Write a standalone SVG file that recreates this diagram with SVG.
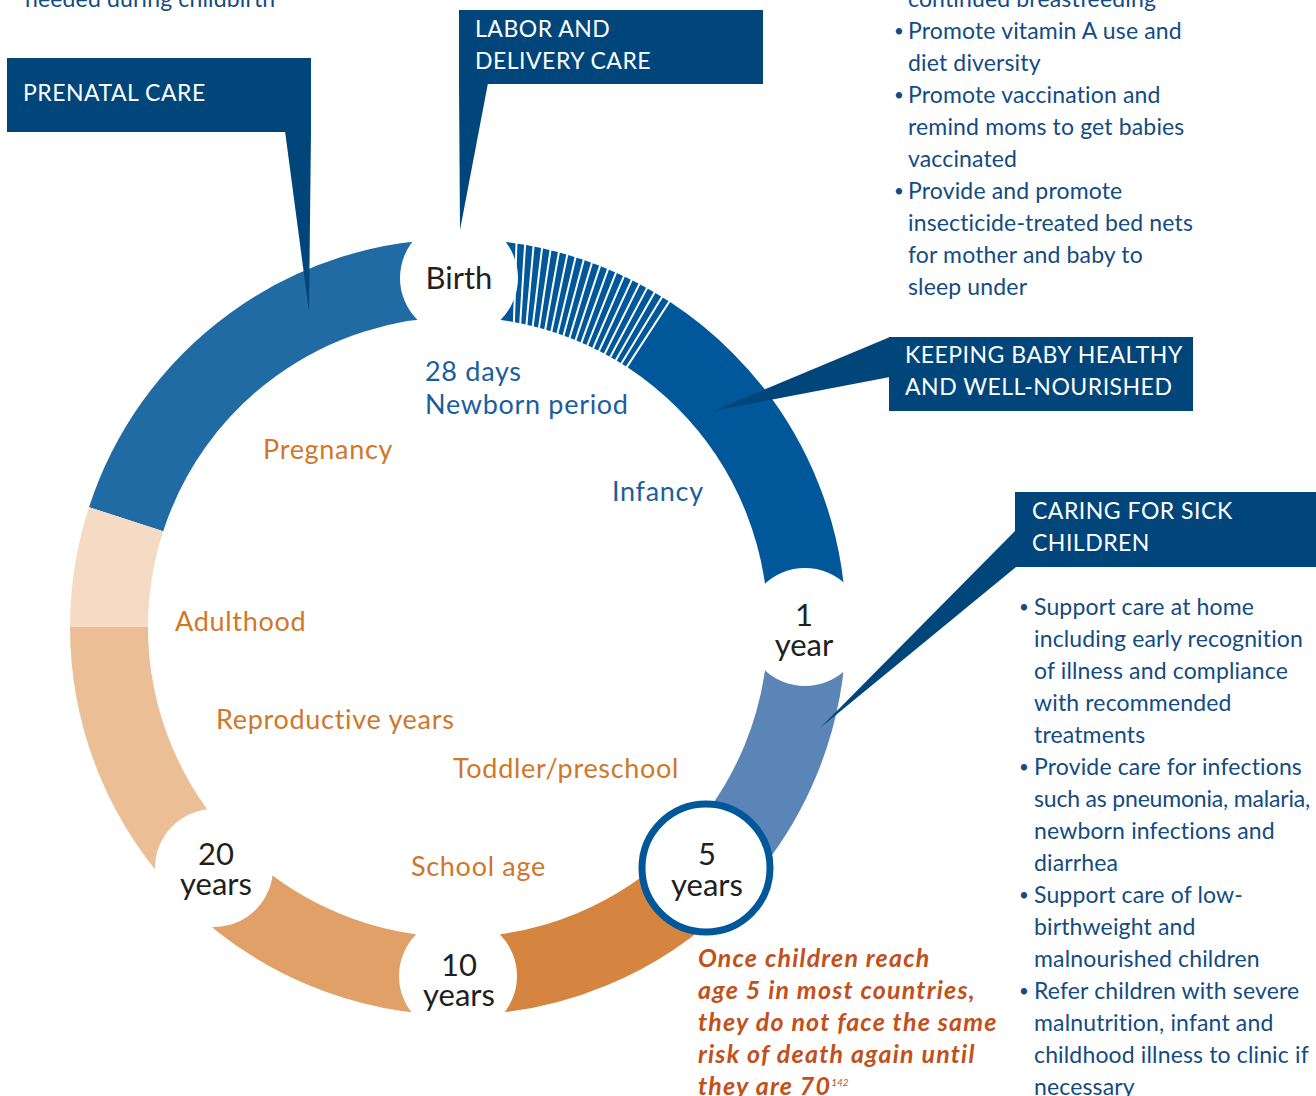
<svg xmlns="http://www.w3.org/2000/svg" width="1316" height="1096" viewBox="0 0 1316 1096">
<defs>
<style>
text{font-family:Lato,"Open Sans","Liberation Sans",sans-serif}
.box{fill:#00467b}
.ptr{fill:#00467b}
.ttl{font-size:23px;fill:#ffffff;letter-spacing:0.5px}
.bul{font-size:23px;fill:#134b83;letter-spacing:0.15px}
.dot{font-size:17px}
.lb{font-size:27px;fill:#1b5e9e;letter-spacing:0.7px}
.lo{font-size:27px;fill:#d0772a;letter-spacing:0.7px}
.nd{font-size:31px;fill:#231f20;text-anchor:middle}
.red{font-size:25px;fill:#c2501b;font-weight:bold;font-style:italic;letter-spacing:1.2px}
.seg{fill:none;stroke-width:78}
.hole{fill:#ffffff}
.stripe{stroke:#ffffff;stroke-width:2;fill:none}
</style>
</defs>
<rect width="1316" height="1096" fill="#ffffff"/>

<g id="ring">
<path id="seg-prenatal" class="seg" stroke="#216ba5" d="M126.1 519.2 A349 349 0 0 1 458 278"/>
<path id="seg-adult-pale" class="seg" stroke="#f5dbc3" d="M109 627 A349 349 0 0 1 126.1 519.2"/>
<path id="seg-reproductive" class="seg" stroke="#ebbe95" d="M211.2 873.8 A349 349 0 0 1 109 627"/>
<path id="seg-school" class="seg" stroke="#e0a068" d="M458 976 A349 349 0 0 1 211.2 873.8"/>
<path id="seg-toddler" class="seg" stroke="#d5853f" d="M704.8 873.8 A349 349 0 0 1 458 976"/>
<path id="seg-1to5" class="seg" stroke="#5b84b7" d="M807 627 A349 349 0 0 1 704.8 873.8"/>
<path id="seg-infancy" class="seg" stroke="#00589b" d="M458 278 A349 349 0 0 1 807 627"/>
<g id="newborn-stripes" class="stripe">
<line x1="516.6" y1="239.4" x2="513.8" y2="326.1"/>
<line x1="525.3" y1="240.8" x2="520.0" y2="327.3"/>
<line x1="533.9" y1="242.4" x2="526.1" y2="328.7"/>
<line x1="542.5" y1="244.2" x2="532.3" y2="330.2"/>
<line x1="551.1" y1="246.2" x2="538.4" y2="331.8"/>
<line x1="559.6" y1="248.4" x2="544.5" y2="333.5"/>
<line x1="568.1" y1="250.8" x2="550.6" y2="335.3"/>
<line x1="576.5" y1="253.3" x2="556.6" y2="337.3"/>
<line x1="584.8" y1="256.1" x2="562.5" y2="339.4"/>
<line x1="593.1" y1="259.0" x2="568.4" y2="341.6"/>
<line x1="601.3" y1="262.1" x2="574.3" y2="344.0"/>
<line x1="609.4" y1="265.4" x2="580.1" y2="346.4"/>
<line x1="617.5" y1="268.9" x2="585.9" y2="349.0"/>
<line x1="625.5" y1="272.6" x2="591.6" y2="351.7"/>
<line x1="633.4" y1="276.4" x2="597.3" y2="354.5"/>
<line x1="641.2" y1="280.4" x2="602.9" y2="357.5"/>
<line x1="648.9" y1="284.6" x2="608.4" y2="360.5"/>
<line x1="656.5" y1="289.0" x2="613.9" y2="363.7"/>
<line x1="664.1" y1="293.5" x2="619.3" y2="367.0"/>
<line x1="671.5" y1="298.2" x2="624.6" y2="370.4"/>
</g>
</g>

<g id="node-birth">
<circle class="hole" cx="459" cy="278" r="59"/>
<text class="nd" x="459" y="289">Birth</text>
</g>
<g id="node-1year">
<circle class="hole" cx="805" cy="627" r="59"/>
<text class="nd" x="804" y="626">1</text>
<text class="nd" x="804" y="656">year</text>
</g>
<g id="node-5years">
<circle cx="706" cy="868" r="64" fill="#ffffff" stroke="#00589b" stroke-width="7"/>
<text class="nd" x="707" y="865">5</text>
<text class="nd" x="707" y="896">years</text>
</g>
<g id="node-10years">
<circle class="hole" cx="458" cy="976" r="59"/>
<text class="nd" x="459" y="976">10</text>
<text class="nd" x="459" y="1006">years</text>
</g>
<g id="node-20years">
<circle class="hole" cx="214" cy="868" r="59"/>
<text class="nd" x="216" y="865">20</text>
<text class="nd" x="216" y="895">years</text>
</g>

<g id="connectors">
<polygon class="ptr" points="285,131 311,131 309,312"/>
<polygon class="ptr" points="459,83 488,83 460,230"/>
<polygon class="ptr" points="890,337 890,377 713,411"/>
<polygon class="ptr" points="1016,530 1016,567 820,728"/>
</g>

<g id="callout-prenatal">
<rect class="box" x="7" y="58" width="304" height="74"/>
<text class="ttl" x="23" y="101">PRENATAL CARE</text>
</g>
<g id="callout-labor">
<rect class="box" x="459" y="10" width="304" height="74"/>
<text class="ttl" x="475" y="37">LABOR AND</text>
<text class="ttl" x="475" y="69">DELIVERY CARE</text>
</g>
<g id="callout-keeping">
<rect class="box" x="889" y="337" width="304" height="74"/>
<text class="ttl" x="905" y="363">KEEPING BABY HEALTHY</text>
<text class="ttl" x="905" y="395">AND WELL-NOURISHED</text>
</g>
<g id="callout-caring">
<rect class="box" x="1015" y="492" width="301" height="75"/>
<text class="ttl" x="1032" y="519">CARING FOR SICK</text>
<text class="ttl" x="1032" y="551">CHILDREN</text>
</g>

<g id="labels">
<text class="lb" x="425" y="381">28 days</text>
<text class="lb" x="425" y="414">Newborn period</text>
<text class="lb" x="612" y="501">Infancy</text>
<text class="lo" x="263" y="459">Pregnancy</text>
<text class="lo" x="175" y="631">Adulthood</text>
<text class="lo" x="216" y="729">Reproductive years</text>
<text class="lo" x="453" y="778">Toddler/preschool</text>
<text class="lo" x="411" y="876">School age</text>
</g>

<g id="text-top-left">
<text class="bul" x="25" y="7">needed during childbirth</text>
</g>

<g id="list-keeping">
<text class="bul" x="908" y="7">continued breastfeeding</text>
<text class="bul"><tspan class="dot" x="894" y="37">•</tspan><tspan x="908" y="39">Promote vitamin A use and</tspan></text>
<text class="bul" x="908" y="71">diet diversity</text>
<text class="bul"><tspan class="dot" x="894" y="101">•</tspan><tspan x="908" y="103">Promote vaccination and</tspan></text>
<text class="bul" x="908" y="135">remind moms to get babies</text>
<text class="bul" x="908" y="167">vaccinated</text>
<text class="bul"><tspan class="dot" x="894" y="197">•</tspan><tspan x="908" y="199">Provide and promote</tspan></text>
<text class="bul" x="908" y="231">insecticide-treated bed nets</text>
<text class="bul" x="908" y="263">for mother and baby to</text>
<text class="bul" x="908" y="295">sleep under</text>
</g>

<g id="list-caring">
<text class="bul"><tspan class="dot" x="1019" y="613">•</tspan><tspan x="1034" y="615">Support care at home</tspan></text>
<text class="bul" x="1034" y="647">including early recognition</text>
<text class="bul" x="1034" y="679">of illness and compliance</text>
<text class="bul" x="1034" y="711">with recommended</text>
<text class="bul" x="1034" y="743">treatments</text>
<text class="bul"><tspan class="dot" x="1019" y="773">•</tspan><tspan x="1034" y="775">Provide care for infections</tspan></text>
<text class="bul" x="1034" y="807" style="letter-spacing:-0.3px" textLength="276">such as pneumonia, malaria,</text>
<text class="bul" x="1034" y="839">newborn infections and</text>
<text class="bul" x="1034" y="871">diarrhea</text>
<text class="bul"><tspan class="dot" x="1019" y="901">•</tspan><tspan x="1034" y="903">Support care of low-</tspan></text>
<text class="bul" x="1034" y="935">birthweight and</text>
<text class="bul" x="1034" y="967">malnourished children</text>
<text class="bul"><tspan class="dot" x="1019" y="997">•</tspan><tspan x="1034" y="999">Refer children with severe</tspan></text>
<text class="bul" x="1034" y="1031">malnutrition, infant and</text>
<text class="bul" x="1034" y="1063">childhood illness to clinic if</text>
<text class="bul" x="1034" y="1095">necessary</text>
</g>

<g id="note-age5">
<text class="red" x="698" y="967">Once children reach</text>
<text class="red" x="698" y="999">age 5 in most countries,</text>
<text class="red" x="698" y="1031">they do not face the same</text>
<text class="red" x="698" y="1063">risk of death again until</text>
<text class="red" x="698" y="1095">they are 70<tspan font-size="10" font-weight="normal" letter-spacing="0" dy="-9">142</tspan></text>
</g>
</svg>
